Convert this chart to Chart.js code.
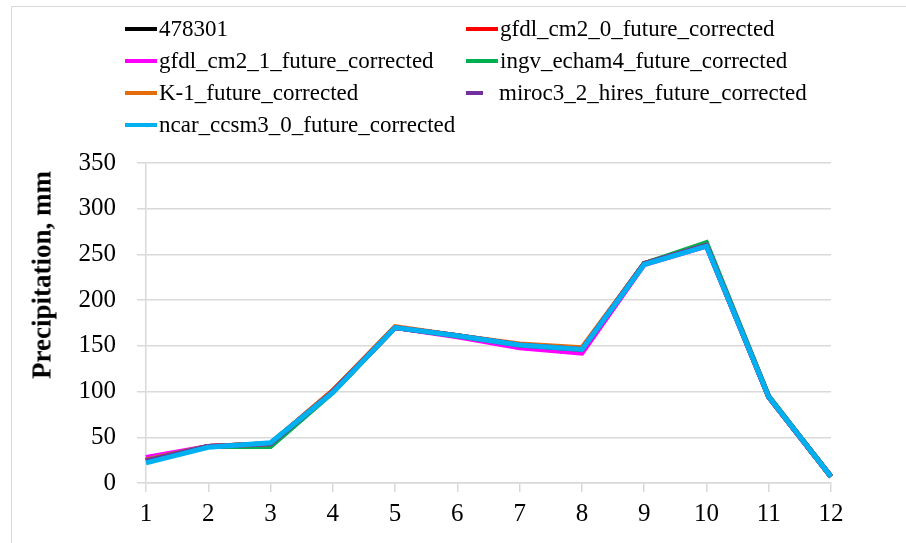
<!DOCTYPE html>
<html>
<head>
<meta charset="utf-8">
<script src="https://cdn.jsdelivr.net/npm/chart.js@4.4.1/dist/chart.umd.min.js"></script>
<style>
  html, body { margin: 0; padding: 0; background: #fff; }
  #wrap { position: relative; width: 906px; height: 543px; overflow: hidden; }
  #frame { position: absolute; left: 11px; top: 6px; right: -2px; bottom: -2px;
           border-top: 1px solid #d9d9d9; border-left: 1px solid #d9d9d9; }
  #chart { position: absolute; left: 0; top: 0; }
  #legend { position: absolute; left: 0; top: 0; font-family: "Liberation Serif", "Times New Roman", serif;
            font-size: 23px; color: #000; }
  .item { position: absolute; height: 32px; display: flex; align-items: center; white-space: nowrap; }
  .swatch { height: 4px; margin-right: 2px; }
  #ytitle { position: absolute; left: 42px; top: 275px; transform: translate(-50%, -50%) rotate(-90deg);
            font-family: "Liberation Serif", "Times New Roman", serif; font-weight: bold; font-size: 27px;
            white-space: nowrap; }
</style>
</head>
<body>
<div id="wrap">
  <div id="frame"></div>
  <canvas id="chart" width="906" height="543"></canvas>
  <div id="legend"></div>
  <div id="ytitle">Precipitation, mm</div>
</div>
<script>
const months = ['1', '2', '3', '4', '5', '6', '7', '8', '9', '10', '11', '12'];
const yTicks = [0, 50, 100, 150, 200, 250, 300, 350];

const station478301 = [25, 40, 43, 100, 170, 161, 151, 146, 240, 260, 94, 7];
const gfdlCm20 = [25, 40, 43, 101, 170, 161, 151, 146, 240, 260, 94, 7];
const gfdlCm21 = [28, 40, 42, 100, 170, 160, 148, 142, 239, 259, 94, 7];
const ingvEcham4 = [25, 40, 40, 99, 170, 161, 151, 146, 240, 263, 95, 7];
const k1 = [25, 40, 43, 101, 171, 161, 152, 148, 240, 260, 94, 7];
const miroc32Hires = [24, 40, 43, 100, 170, 161, 151, 146, 240, 260, 94, 7];
const ncarCcsm30 = [22, 39, 44, 99, 170, 161, 151, 146, 239, 259, 94, 7];

const series = [
    { label: '478301', data: station478301, color: '#000000' },
    { label: 'gfdl_cm2_0_future_corrected', data: gfdlCm20, color: '#ff0000' },
    { label: 'gfdl_cm2_1_future_corrected', data: gfdlCm21, color: '#ff00ff' },
    { label: 'ingv_echam4_future_corrected', data: ingvEcham4, color: '#00b050' },
    { label: 'K-1_future_corrected', data: k1, color: '#e46c0a' },
    { label: 'miroc3_2_hires_future_corrected', data: miroc32Hires, color: '#7030a0' },
    { label: 'ncar_ccsm3_0_future_corrected', data: ncarCcsm30, color: '#00b0f0' },
];

const serif = '"Liberation Serif", "Times New Roman", serif';

// legend in two columns, like the original
const legend = document.getElementById('legend');
series.forEach((s, i) => {
    const col = i % 2, row = Math.floor(i / 2);
    const el = document.createElement('div');
    el.className = 'item';
    el.style.left = (col ? 466 : 125) + 'px';
    el.style.top = (13 + row * 32) + 'px';
    const sw = document.createElement('span');
    sw.className = 'swatch';
    sw.style.background = s.color;
    sw.style.width = (s.label.startsWith('miroc') ? 17 : 32) + 'px';
    if (s.label.startsWith('miroc')) sw.style.marginRight = '16px';
    const tx = document.createElement('span');
    tx.textContent = s.label;
    el.appendChild(sw);
    el.appendChild(tx);
    legend.appendChild(el);
});

new Chart(document.getElementById('chart'), {
    type: 'line',
    data: {
        labels: months,
        datasets: series.map((s, i) => ({
            label: s.label,
            data: s.data,
            borderColor: s.color,
            backgroundColor: s.color,
            borderWidth: 5,
            pointRadius: 0,
            tension: 0,
            order: series.length - i,
        }))
    },
    options: {
        responsive: false,
        animation: false,
        layout: { padding: { left: 0, right: 75, top: 163, bottom: 0 } },
        plugins: { legend: { display: false }, tooltip: { enabled: false } },
        scales: {
            x: {
                offset: false,
                grid: { drawOnChartArea: false, color: '#d9d9d9', tickLength: 9, lineWidth: 1.5 },
                border: { color: '#d9d9d9', width: 1.5 },
                ticks: { font: { family: serif, size: 25 }, color: '#000', padding: 7, maxRotation: 0 },
                afterFit: (scale) => { scale.height = 60; }
            },
            y: {
                min: 0,
                max: 350,
                afterBuildTicks: (scale) => { scale.ticks = yTicks.map(v => ({ value: v })); },
                grid: { color: '#d9d9d9', tickLength: 9, lineWidth: 1.5 },
                border: { color: '#d9d9d9', width: 1.5 },
                ticks: { font: { family: serif, size: 25 }, color: '#000', padding: 21 },
                afterFit: (scale) => { scale.width = 146; }
            }
        }
    }
});
</script>
</body>
</html>
